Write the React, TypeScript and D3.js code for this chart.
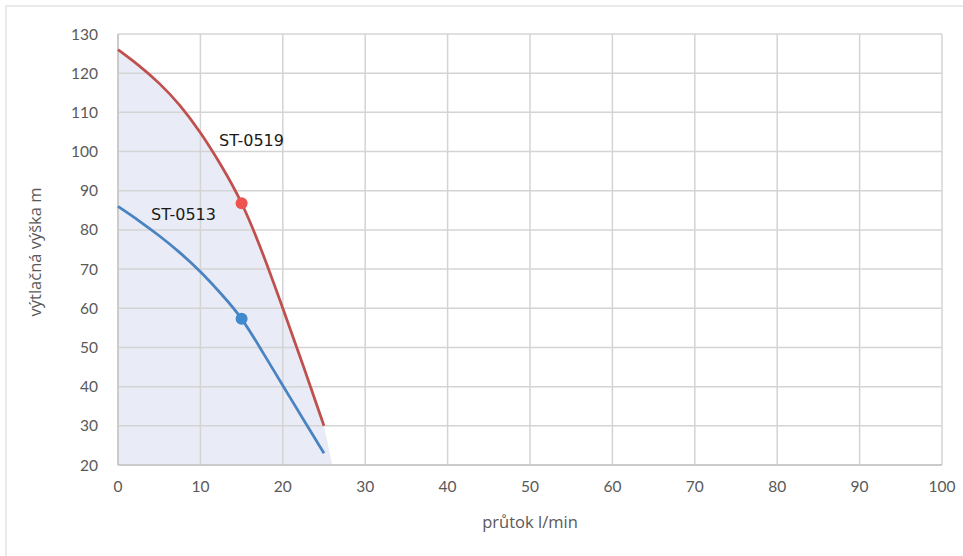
import React from "react";
import * as d3 from "d3";

const flowX = [0, 2.5, 5, 7.5, 10, 12.5, 15, 17.5, 20, 22.5, 25];
const headST0519 = [126, 122, 117.4, 111.8, 104.8, 96.5, 86.8, 74.3, 60, 45.2, 30];
const headST0513 = [86, 82.4, 78.5, 74.2, 69.3, 63.7, 57.3, 49.0, 40.3, 31.6, 23];
const areaEndFlow = 26;
const areaEndHead = 20;
const pointFlow = [15, 15];
const pointHead = [86.8, 57.3];
const xTicks = [0, 10, 20, 30, 40, 50, 60, 70, 80, 90, 100];
const yTicks = [20, 30, 40, 50, 60, 70, 80, 90, 100, 110, 120, 130];

const W = 963;
const H = 556;

export default function App() {
  const x = d3.scaleLinear().domain([0, 100]).range([118, 942]);
  const y = d3.scaleLinear().domain([20, 130]).range([465, 34]);

  const line = d3
    .line<[number, number]>()
    .x((d) => x(d[0]))
    .y((d) => y(d[1]))
    .curve(d3.curveNatural);

  const redPts: [number, number][] = flowX.map((f, i) => [f, headST0519[i]]);
  const bluePts: [number, number][] = flowX.map((f, i) => [f, headST0513[i]]);

  const redPath = line(redPts) || "";
  const areaPath =
    `M${x(0)},${y(20)}L` +
    redPath.slice(1) +
    `L${x(areaEndFlow)},${y(areaEndHead)}Z`;

  const tickFont = "Lato, 'Open Sans', sans-serif";
  const titleFont = "'Open Sans', 'Noto Sans', sans-serif";
  const labelFont = "'DejaVu Sans', sans-serif";

  return (
    <svg
      width={W}
      height={H}
      style={{ position: "absolute", left: 0, top: 0, background: "#fff" }}
    >
      <rect x={6} y={6} width={W} height={H} fill="#fff" stroke="#e3e3e3" strokeWidth={1.5} />
      <path d={areaPath} fill="#e9ecf6" />
      {xTicks.map((t) => (
        <line key={"gx" + t} x1={x(t)} x2={x(t)} y1={y(130)} y2={y(20)} stroke="#d4d4d4" strokeWidth={1.5} />
      ))}
      {yTicks.map((t) => (
        <line key={"gy" + t} x1={x(0)} x2={x(100)} y1={y(t)} y2={y(t)} stroke="#d4d4d4" strokeWidth={1.5} />
      ))}
      <line x1={x(0)} x2={x(0)} y1={y(130)} y2={y(20)} stroke="#c4c4c4" strokeWidth={1.5} />
      <line x1={x(0)} x2={x(100)} y1={y(20)} y2={y(20)} stroke="#c4c4c4" strokeWidth={1.5} />
      <path d={redPath} fill="none" stroke="#c0504d" strokeWidth={2.75} />
      <path d={line(bluePts) || ""} fill="none" stroke="#4a83c2" strokeWidth={2.75} />
      <circle cx={x(pointFlow[0])} cy={y(pointHead[0])} r={6} fill="#ef5350" />
      <circle cx={x(pointFlow[1])} cy={y(pointHead[1])} r={6} fill="#4089cc" />
      {xTicks.map((t) => (
        <text key={"tx" + t} x={x(t)} y={492} textAnchor="middle" fontFamily={tickFont} fontSize={15.5} fill="#595959">
          {t}
        </text>
      ))}
      {yTicks.map((t) => (
        <text key={"ty" + t} x={98} y={y(t) + 5.5} textAnchor="end" fontFamily={tickFont} fontSize={15.5} fill="#595959">
          {t}
        </text>
      ))}
      <text x={530} y={528} textAnchor="middle" fontFamily={titleFont} fontSize={16.5} fill="#595959">
        průtok l/min
      </text>
      <text
        transform={`translate(41, ${252}) rotate(-90)`}
        textAnchor="middle"
        fontFamily={titleFont}
        fontSize={16.5}
        fill="#595959"
      >
        výtlačná výška m
      </text>
      <text x={219} y={146} fontFamily={labelFont} fontSize={16} fill="#1a1a1a">
        ST-0519
      </text>
      <text x={151} y={220} fontFamily={labelFont} fontSize={16} fill="#1a1a1a">
        ST-0513
      </text>
    </svg>
  );
}
